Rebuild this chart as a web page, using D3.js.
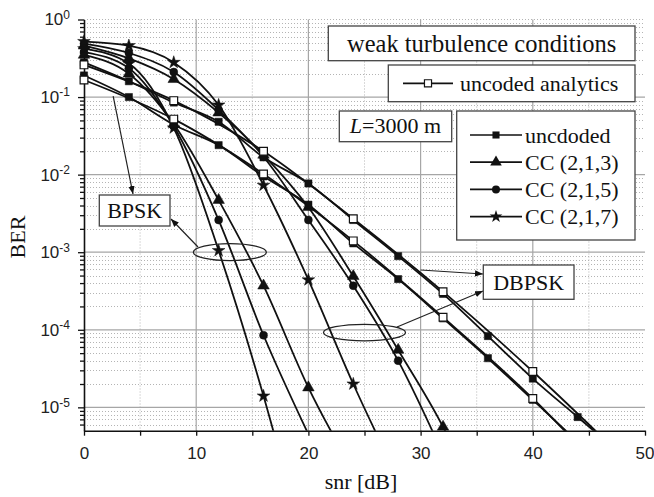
<!DOCTYPE html>
<html>
<head>
<meta charset="utf-8">
<script src="https://cdn.jsdelivr.net/npm/d3@7"></script>
<style>
body{margin:0;background:#fff;}
svg{display:block;}
.serif{font-family:"Liberation Serif","Times New Roman",serif;fill:#111;}
</style>
</head>
<body>
<div id="chart"></div>
<script>
// snr grids (dB) on which the markers sit
const snr4 = [0,4,8,12,16,20,24,28,32,36,40,44,48];
const snr8 = [0,8,16,24,32,40,48];

// BER, index-aligned with snr4 / snr8
const berBpskAnalytic  = [0.166,0.052,0.0102,0.0014,1.45e-4,1.3e-5,8e-7];
const berBpskUncoded   = [0.19,0.1,0.044,0.024,0.0095,0.0041,0.0013,4.5e-4,1.4e-4,4.3e-5,1.25e-5,3.6e-6];
const berBpskCC3       = [0.35,0.2,0.045,4.7e-3,3.7e-4,1.8e-5,1.5e-6];
const berBpskCC5       = [0.38,0.235,0.042,2.6e-3,8.5e-5,4.5e-6];
const berBpskCC7       = [0.42,0.27,0.04,1.05e-3,1.4e-5,1e-7];

const berDbpskAnalytic = [0.26,0.09,0.02,0.0027,3.1e-4,2.9e-5,2.3e-6];
const berDbpskUncoded  = [0.28,0.16,0.085,0.048,0.0167,0.0077,0.0026,8.9e-4,2.9e-4,8.3e-5,2.35e-5,7.5e-6,2.4e-6];
const berDbpskCC3      = [0.46,0.315,0.17,0.063,0.018,3.8e-3,4.9e-4,5.5e-5,5.6e-6,3e-7];
const berDbpskCC5      = [0.49,0.37,0.21,0.068,0.017,2.6e-3,3.7e-4,4.0e-5,2.5e-6];
const berDbpskCC7      = [0.52,0.46,0.28,0.079,0.0073,4.4e-4,2.0e-5,1.2e-6];

const xMajor = [0,10,20,30,40,50];
const xMinor = [5,15,25,35,45];
const yDecades = [1,1e-1,1e-2,1e-3,1e-4,1e-5];
const yExponents = ["0","-1","-2","-3","-4","-5"];
const legendLabels = ["uncdoded","CC (2,1,3)","CC (2,1,5)","CC (2,1,7)"];

let width = 654, height = 497;
let x = d3.scaleLinear().domain([0,50]).range([84,645]);
let y = d3.scaleLog().domain([5e-6,1]).range([430.7,19.5]);

let svg = d3.select("#chart").append("svg")
    .attr("width",width).attr("height",height)
    .attr("viewBox",[0,0,width,height]);

svg.append("defs").append("marker")
    .attr("id","arrow").attr("viewBox","0 0 10 10")
    .attr("refX",10).attr("refY",5)
    .attr("markerWidth",8).attr("markerHeight",8)
    .attr("markerUnits","userSpaceOnUse")
    .attr("orient","auto")
    .append("path").attr("d","M0,1L10,5L0,9Z").attr("fill","#111");

svg.select("defs").append("clipPath").attr("id","plotclip")
    .append("rect").attr("x",0).attr("y",0).attr("width",width).attr("height",y.range()[0]);

// grid
let minorY = [];
for(let e=-6;e<0;e++) for(let k=2;k<10;k++){ let v=k*Math.pow(10,e); if(v>=5e-6&&v<1) minorY.push(v); }

let grid = svg.append("g");
grid.selectAll(".gy-minor").data(minorY).join("line")
    .attr("x1",x(0)).attr("x2",x(50))
    .attr("y1",d=>Math.round(y(d))+0.5).attr("y2",d=>Math.round(y(d))+0.5)
    .attr("stroke","#b4b4b4").attr("stroke-dasharray","1,2");
grid.selectAll(".gx-minor").data(xMinor).join("line")
    .attr("x1",d=>x(d)).attr("x2",d=>x(d))
    .attr("y1",y(1)).attr("y2",y(5e-6))
    .attr("stroke","#b4b4b4").attr("stroke-dasharray","1,2");
grid.selectAll(".gy-top").data([1]).join("line")
    .attr("x1",x(0)).attr("x2",x(50))
    .attr("y1",d=>y(d)).attr("y2",d=>y(d))
    .attr("stroke","#b4b4b4").attr("stroke-dasharray","1,2");
grid.selectAll(".gy-major").data(yDecades.slice(1)).join("line")
    .attr("x1",x(0)).attr("x2",x(50))
    .attr("y1",d=>y(d)).attr("y2",d=>y(d))
    .attr("stroke","#a6a6a6").attr("stroke-width",1.2);
grid.selectAll(".gx-major").data(xMajor.slice(1,-1)).join("line")
    .attr("x1",d=>x(d)).attr("x2",d=>x(d))
    .attr("y1",y(1)).attr("y2",y(5e-6))
    .attr("stroke","#a6a6a6").attr("stroke-width",1.2);

// axes
let xAxis = svg.append("g").attr("transform",`translate(0,${y(5e-6)})`)
    .call(d3.axisBottom(x).tickValues(xMajor).tickSize(5).tickSizeOuter(0).tickPadding(11));
svg.append("g").attr("transform",`translate(0,${y(5e-6)})`)
    .call(d3.axisBottom(x).tickValues(xMinor).tickSize(5).tickSizeOuter(0).tickFormat(""))
    .select(".domain").remove();
xAxis.selectAll("text").attr("font-size",17).attr("font-family","'Liberation Sans',Arial,sans-serif").attr("fill","#222");
xAxis.selectAll(".tick text").filter(d=>d===50).attr("text-anchor","end").attr("x",9);

let yAxis = svg.append("g").attr("transform",`translate(${x(0)},0)`)
    .call(d3.axisLeft(y).tickValues(yDecades).tickSize(6).tickSizeOuter(0).tickPadding(8).tickFormat(""));
let minorTicks = [];
for(let e=-6;e<0;e++) for(let k=2;k<10;k++){ let v=k*Math.pow(10,e); if(v>=5e-6&&v<1) minorTicks.push(v); }
svg.append("g").attr("transform",`translate(${x(0)},0)`)
    .call(d3.axisLeft(y).tickValues(minorTicks).tickSize(4).tickSizeOuter(0).tickFormat(""))
    .select(".domain").remove();
yAxis.selectAll(".tick text").each(function(d,i){
    let t = d3.select(this).attr("font-size",17).attr("font-family","'Liberation Sans',Arial,sans-serif").attr("fill","#222");
    t.append("tspan").text("10");
    t.append("tspan").attr("dy","-0.55em").attr("font-size",12).text(yExponents[i]);
});
svg.selectAll(".domain").attr("stroke","#111").attr("stroke-width",1.6);
svg.selectAll(".tick line").attr("stroke","#111").attr("stroke-width",1.3);

// axis titles
svg.append("text").attr("class","serif").attr("x",361).attr("y",489)
    .attr("text-anchor","middle").attr("font-size",22).text("snr [dB]");
svg.append("text").attr("class","serif").attr("transform","translate(25,237) rotate(-90)")
    .attr("text-anchor","middle").attr("font-size",22).text("BER");

// curves
function pts(snr,ber){ return ber.map((b,i)=>[snr[i],b]); }
let series = [
    {data:pts(snr4,berBpskCC3),  sym:d3.symbolTriangle, size:58, open:false},
    {data:pts(snr4,berBpskCC5),  sym:d3.symbolCircle,   size:50, open:false},
    {data:pts(snr4,berBpskCC7),  sym:d3.symbolStar,     size:50, open:false},
    {data:pts(snr4,berDbpskCC3), sym:d3.symbolTriangle, size:58, open:false},
    {data:pts(snr4,berDbpskCC5), sym:d3.symbolCircle,   size:50, open:false},
    {data:pts(snr4,berDbpskCC7), sym:d3.symbolStar,     size:50, open:false},
    {data:pts(snr4,berBpskUncoded),  sym:d3.symbolSquare, size:52, open:false},
    {data:pts(snr4,berDbpskUncoded), sym:d3.symbolSquare, size:52, open:false},
    {data:pts(snr8,berBpskAnalytic),  sym:d3.symbolSquare, size:60, open:true},
    {data:pts(snr8,berDbpskAnalytic), sym:d3.symbolSquare, size:60, open:true}
];
let line = d3.line().x(d=>x(d[0])).y(d=>y(d[1])).curve(d3.curveMonotoneX);
let plot = svg.append("g").attr("clip-path","url(#plotclip)");
plot.selectAll(".curve").data(series).join("path")
    .attr("d",d=>line(d.data)).attr("fill","none")
    .attr("stroke","#111").attr("stroke-width",1.8);
series.forEach(s=>{
    plot.append("g").selectAll("path").data(s.data.filter(d=>d[1]>=5e-6)).join("path")
        .attr("transform",d=>`translate(${x(d[0])},${y(d[1])})`)
        .attr("d",d3.symbol().type(s.sym).size(s.size))
        .attr("fill",s.open?"#fff":"#111")
        .attr("stroke","#111").attr("stroke-width",s.open?1.2:0.5);
});

// annotations: ellipses and arrows (anchors in data units)
let ellipses = [{snr:13,ber:1e-3,rx:36.5,ry:8.5},{snr:25,ber:9.2e-5,rx:41,ry:8.3}];
svg.selectAll(".ell").data(ellipses).join("ellipse")
    .attr("cx",d=>x(d.snr)).attr("cy",d=>y(d.ber)).attr("rx",d=>d.rx).attr("ry",d=>d.ry)
    .attr("fill","none").attr("stroke","#222").attr("stroke-width",1.3);

let arrows = [
    {from:[x(2.6),y(0.103)], to:[133,194]},
    {from:[198,247], to:[171,219]},
    {from:[x(30),y(5.9e-4)], to:[483,274]},
    {from:[397,327], to:[483,291]}
];
svg.selectAll(".arr").data(arrows).join("line")
    .attr("x1",d=>d.from[0]).attr("y1",d=>d.from[1])
    .attr("x2",d=>d.to[0]).attr("y2",d=>d.to[1])
    .attr("stroke","#222").attr("stroke-width",1.2).attr("marker-end","url(#arrow)");

// boxes
function box(x0,y0,x1,y1){
    return svg.append("rect").attr("x",x0).attr("y",y0).attr("width",x1-x0).attr("height",y1-y0)
        .attr("fill","#fff").attr("stroke","#444").attr("stroke-width",1.3);
}
box(99.3,195,170,226);
svg.append("text").attr("class","serif").attr("x",134.7).attr("y",218).attr("text-anchor","middle").attr("font-size",22).text("BPSK");
box(483.3,265,574,299.3);
svg.append("text").attr("class","serif").attr("x",528.7).attr("y",290).attr("text-anchor","middle").attr("font-size",22).text("DBPSK");

box(328.3,26,635,60.7);
svg.append("text").attr("class","serif").attr("x",481.7).attr("y",51.5).attr("text-anchor","middle").attr("font-size",24.5).text("weak turbulence conditions");

box(388.3,65,635,101.7);
svg.append("line").attr("x1",403).attr("x2",453).attr("y1",83.3).attr("y2",83.3).attr("stroke","#111").attr("stroke-width",1.7);
svg.append("path").attr("transform","translate(428,83.3)").attr("d",d3.symbol().type(d3.symbolSquare).size(50))
    .attr("fill","#fff").attr("stroke","#111").attr("stroke-width",1.2);
svg.append("text").attr("class","serif").attr("x",460).attr("y",91).attr("font-size",22).text("uncoded analytics");

box(339.3,111,451.7,141.7);
let lt = svg.append("text").attr("class","serif").attr("x",395.5).attr("y",133).attr("text-anchor","middle").attr("font-size",22);
lt.append("tspan").attr("font-style","italic").text("L");
lt.append("tspan").text("=3000 m");

box(456.7,111,635,240);
let legendSyms = [d3.symbolSquare,d3.symbolTriangle,d3.symbolCircle,d3.symbolStar];
let legendSizes = [50,58,50,50];
let rows = svg.append("g").selectAll("g").data(legendLabels).join("g")
    .attr("transform",(d,i)=>`translate(0,${135+i*27.2})`);
rows.append("line").attr("x1",470).attr("x2",522).attr("stroke","#111").attr("stroke-width",1.7);
rows.append("path").attr("transform","translate(496,0)")
    .attr("d",(d,i)=>d3.symbol().type(legendSyms[i]).size(legendSizes[i])())
    .attr("fill","#111");
rows.append("text").attr("class","serif").attr("x",525).attr("y",7.5).attr("font-size",22).text(d=>d);
</script>
</body>
</html>
